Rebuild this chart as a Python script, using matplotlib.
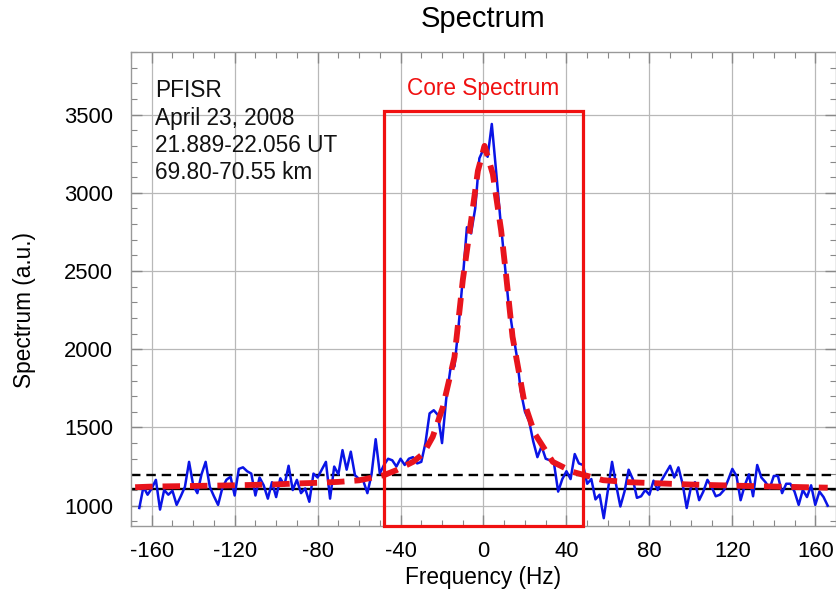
import matplotlib
matplotlib.use("Agg")
import matplotlib.pyplot as plt
from matplotlib.patches import Rectangle
from matplotlib.ticker import MultipleLocator

plt.rcParams['font.family'] = ['Liberation Sans', 'DejaVu Sans']
plt.rcParams['axes.unicode_minus'] = False

# measured spectrum (blue)
freq = list(range(-166, 168, 2))
spectrum = [
    985, 1120, 1070, 1110, 1165, 975, 1100, 1070, 1095, 1005,   # -166..-148
    1060, 1120, 1280, 1130, 1080, 1200, 1280, 1120, 1060, 1005,  # -146..-128
    1110, 1165, 1185, 1065, 1235, 1245, 1220, 1205, 1065, 1180,  # -126..-108
    1130, 1045, 1150, 1055, 1175, 1130, 1255, 1100, 1165, 1080,  # -106..-88
    1110, 1025, 1205, 1180, 1230, 1280, 1045, 1250, 1200, 1355,  # -86..-68
    1230, 1345, 1195, 1170, 1160, 1080, 1200, 1425, 1205, 1260,  # -66..-48
    1300, 1290, 1250, 1300, 1260, 1300, 1310, 1270, 1280, 1400,  # -46..-28
    1590, 1610, 1580, 1400, 1680, 1870, 1890, 2150, 2450, 2780,  # -26..-8
    2740, 2900, 3220, 3280, 3230, 3440, 3150, 2850, 2580, 2300,  # -6..12
    2120, 1960, 1730, 1600, 1540, 1410, 1310, 1380, 1300, 1290,  # 14..32
    1270, 1090, 1170, 1220, 1170, 1330, 1270, 1260, 1140, 1170,  # 34..52
    1040, 1070, 920, 1100, 1280, 1130, 995, 1090, 1230, 1170,    # 54..72
    1050, 1060, 1100, 1070, 1160, 1100, 1165, 1210, 1255, 1180,  # 74..92
    1245, 1140, 985, 1115, 1150, 1035, 1090, 1165, 1120, 1060,   # 94..112
    1070, 1100, 1165, 1235, 1190, 1035, 1130, 1200, 1060, 1260,  # 114..132
    1180, 1150, 1110, 1190, 1190, 1080, 1140, 1140, 1090, 1005,  # 134..152
    1100, 1055, 1130, 1005, 1090, 1055, 1000,                    # 154..166
]

# fitted spectrum (red dashed)
fit_freq = [-168, -160, -140, -120, -100, -90, -80, -70, -60, -48, -42, -34, -29,
            -24.5, -19.6, -14, -10, -6, -2.7, 0.5, 4.5, 8.5, 11, 14, 19.8, 24.6,
            33.4, 43, 57.6, 70, 100, 130, 166]
fit_vals = [1118, 1122, 1126, 1130, 1136, 1142, 1146, 1152, 1162, 1195, 1227, 1280, 1333,
            1440, 1630, 1950, 2440, 2820, 3140, 3300, 3120, 2760, 2460, 2080, 1654, 1463,
            1280, 1216, 1163, 1150, 1135, 1125, 1115]

baseline_solid = 1105
baseline_dashed = 1193
core_lo, core_hi, core_top = -48, 48, 3525

info_text = "PFISR\nApril 23, 2008\n21.889-22.056 UT\n69.80-70.55 km"

fig = plt.figure(figsize=(8.37, 5.94), dpi=100)
ax = fig.add_axes([131/837, 1-526/594, 705/837, 474/594])

ax.set_xlim(-170, 170)
ax.set_ylim(870, 3900)

ax.grid(True, which='major', color='#b8b8b8', lw=0.9)
ax.set_axisbelow(True)

ax.axhline(baseline_solid, color='black', lw=1.7, zorder=2)
ax.axhline(baseline_dashed, color='black', lw=1.7, ls=(0, (4, 2.5)), zorder=2)

ax.plot(freq, spectrum, color='#0a14e6', lw=1.8, zorder=3)
ax.plot(fit_freq, fit_vals, color='#e8141c', lw=4.2, dashes=(3.0, 1.7), zorder=4)

rect = Rectangle((core_lo, 870), core_hi - core_lo, core_top - 870, fill=False,
                 edgecolor='#f01010', lw=2.3, zorder=5, clip_on=False)
ax.add_patch(rect)
ax.text(0, 3665, "Core Spectrum", color='#f01010', fontsize=16.3, ha='center', va='center')

ax.text(0.034, 0.942, info_text, transform=ax.transAxes, fontsize=16.3,
        ha='left', va='top', linespacing=1.23, color='#111111')

ax.xaxis.set_major_locator(MultipleLocator(40))
ax.xaxis.set_minor_locator(MultipleLocator(10))
ax.yaxis.set_major_locator(MultipleLocator(500))
ax.yaxis.set_minor_locator(MultipleLocator(100))
ax.tick_params(which='both', direction='in', top=True, right=True, color='#888888')
ax.tick_params(which='major', length=8, width=1)
ax.tick_params(which='minor', length=4.5, width=0.8)
ax.tick_params(axis='x', which='major', labelsize=15.8, pad=11)
ax.tick_params(axis='y', which='major', labelsize=15.8, pad=13)
ax.set_yticks([1000, 1500, 2000, 2500, 3000, 3500])
for s in ax.spines.values():
    s.set_color('#999999')
    s.set_linewidth(1.0)

ax.set_xlabel("Frequency (Hz)", fontsize=16.3)
ax.xaxis.set_label_coords((483-131)/705, -(566-526)/474)
ax.set_ylabel("Spectrum (a.u.)", fontsize=16.3)
ax.yaxis.set_label_coords(-(131-36)/705, (526-310)/474)

fig.text(483/837, 1-19/594, "Spectrum", fontsize=21, ha='center', va='center')

fig.savefig("out.png", dpi=100)
